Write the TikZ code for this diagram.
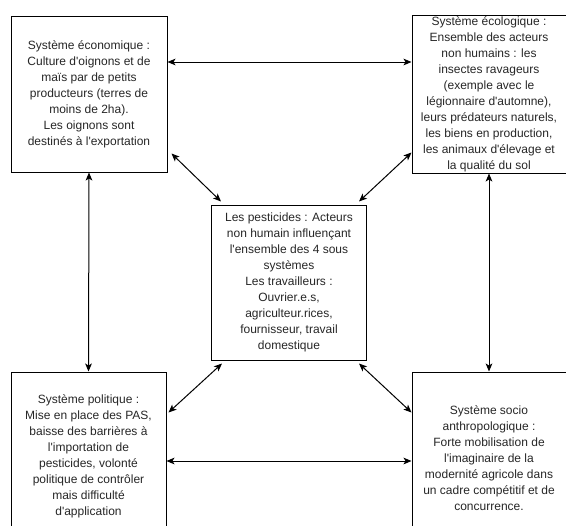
\documentclass[tikz,border=0pt]{standalone}
\usepackage{fontspec}
\setmainfont{Liberation Sans}
\usepackage{xcolor}
\usepackage{tikz}
\usetikzlibrary{calc, arrows.meta}

\newcommand{\ap}{\textquotesingle}
\tikzset{
  sysbox/.style={draw, line width=0.75pt, align=center, inner sep=1pt,
    text=black!85, font=\fontsize{9}{12}\selectfont},
  link/.style={line width=0.75pt, {Stealth[length=6pt,width=5pt,inset=1.5pt]}-{Stealth[length=6pt,width=5pt,inset=1.5pt]}}
}

\begin{document}
\begin{tikzpicture}[x=0.75pt,y=0.75pt,yscale=-1,xscale=1]
      % cadre
      \clip (0,0) rectangle (566,525);
      \node (eco) at (89,94) [sysbox, minimum width=117pt, minimum height=117pt] {Système économique :\\Culture d\ap oignons et de\\maïs par de petits\\producteurs (terres de\\moins de 2ha).\\Les oignons sont\\destinés à l\ap exportation};
      \node (ecolo) at (489,94) [sysbox, minimum width=115.5pt, minimum height=117pt] {Système écologique :\\Ensemble des acteurs\\non humains : les\\insectes ravageurs\\(exemple avec le\\légionnaire d\ap automne),\\leurs prédateurs naturels,\\les biens en production,\\les animaux d\ap élevage et\\la qualité du sol};
      \node (pest) at (289,282.5) [sysbox, minimum width=116.25pt, minimum height=116.25pt] {Les pesticides : Acteurs\\non humain influençant\\l\ap ensemble des 4 sous\\systèmes\\Les travailleurs :\\Ouvrier.e.s,\\agriculteur.rices,\\fournisseur, travail\\domestique};
      \node (pol) at (88.5,456) [sysbox, minimum width=116.25pt, minimum height=126pt] {Système politique :\\Mise en place des PAS,\\baisse des barrières à\\l\ap importation de\\pesticides, volonté\\politique de contrôler\\mais difficulté\\d\ap application};
      \node (socio) at (489,458) [sysbox, minimum width=115.5pt, minimum height=129pt] {Système socio\\anthropologique :\\Forte mobilisation de\\l\ap imaginaire de la\\modernité agricole dans\\un cadre compétitif et de\\concurrence.};
      % liens
      \draw [link] ([yshift=-24pt]eco.east) -- ([yshift=-24pt]ecolo.west);
      \draw [link] (eco.south) -- (pol.north);
      \draw [link] (ecolo.south) -- (socio.north);
      \draw [link] ([yshift=3.75pt]pol.east) -- ([yshift=2.25pt]socio.west);
      \draw [link] ($(eco.south east)+(4,-19)$) -- ($(pest.north west)+(10,-3)$);
      \draw [link] ($(ecolo.south west)+(0,-21)$) -- ($(pest.north east)+(-8,-3)$);
      \draw [link] ($(pest.south west)+(11,3)$) -- ($(pol.north east)+(2,41)$);
      \draw [link] ($(pest.south east)+(-8,3)$) -- ($(socio.north west)+(0,41)$);
\end{tikzpicture}
\end{document}
